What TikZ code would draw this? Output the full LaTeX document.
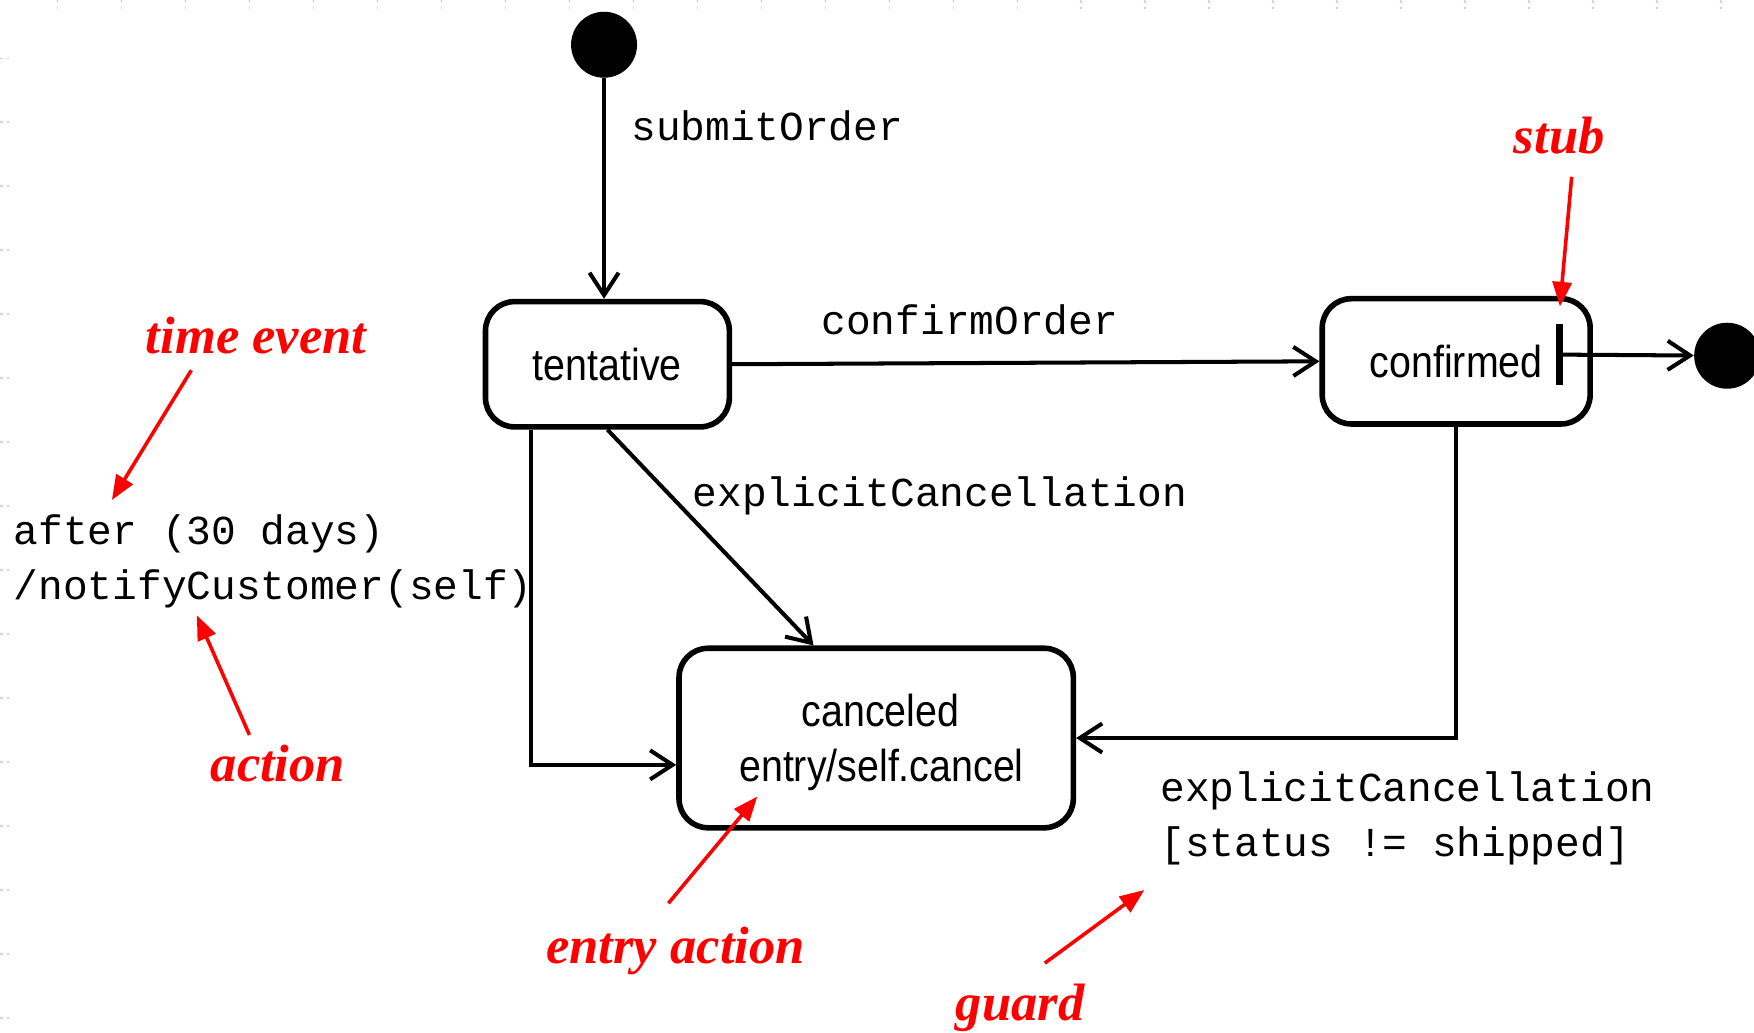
\documentclass[tikz,border=0pt]{standalone}
\usepackage{fontspec}
\usetikzlibrary{arrows.meta}
\newfontfamily\statefont[FakeStretch=0.88]{Liberation Sans}
\newfontfamily\codefont{Liberation Mono}
\newfontfamily\notefont{Liberation Serif}
\definecolor{notered}{RGB}{255,0,0}
\definecolor{gridblue}{RGB}{200,210,245}

\tikzset{
  statebox/.style={draw=black, line width=2.5pt, rounded corners=13pt, inner sep=0pt,
    font=\statefont\fontsize{20}{24.6}\selectfont},
  statetext/.style={font=\statefont\fontsize{20}{24.6}\selectfont, inner sep=0pt},
  pseudo/.style={circle, fill=black, inner sep=0pt, minimum size=29.5pt},
  trans/.style={line width=1.8pt, -{Straight Barb[length=10pt,width=13pt]}},
  code/.style={font=\codefont\fontsize{18.4}{25}\selectfont, inner sep=0pt, anchor=base west},
  note/.style={font=\notefont\bfseries\itshape\fontsize{23.5}{28}\selectfont, text=notered,
    inner sep=0pt, anchor=base west},
  pointer/.style={draw=notered, line width=1.6pt, -{Triangle[length=11pt,width=8.5pt]}},
  tick/.style={gridblue, line width=0.6pt, dash pattern=on 1.5pt off 1.5pt},
}

\begin{document}
\begin{tikzpicture}[x=0.5pt,y=-0.5pt]
\clip (0,0) rectangle (1568,923);
\fill[white] (0,0) rectangle (1568,923);

% faint slide grid marks along the left and top edges
\foreach \k in {0,...,15} \draw[tick] (0,{52+57.2*\k}) -- (8,{52+57.2*\k});
\foreach \k in {0,...,26} \draw[tick] ({51.3+57.2*\k},0) -- ({51.3+57.2*\k},8);

% states
\node[pseudo] (init) at (540,40) {};
\node[statebox, minimum width=109pt, minimum height=56pt] (tentative) at (543,325.6) {tentative};
\node[statebox, minimum width=119.75pt, minimum height=56pt] (confirmed) at (1301.75,323) {confirmed};
\node[statebox, minimum width=176.25pt, minimum height=80.25pt] (canceled) at (783.25,659.75) {};
\node[statetext, anchor=base] (canceledname) at (787,649.6) {canceled};
\node[statetext, anchor=base] (canceledentry) at (788,698.8) {entry/self.cancel};
\node[fill=black, inner sep=0pt, minimum width=3pt, minimum height=27pt] (stub) at (1394,317) {};
\node[pseudo] (final) at (1544,318) {};

% transitions
\draw[trans] (init) -- (init |- tentative.north);
\draw[trans] (tentative.east) -- (confirmed.west);
\draw[trans] (tentative.south) -- ([xshift=-28pt]canceled.north);
\draw[trans] ([xshift=21.5pt]tentative.south west) |- ([yshift=-12pt]canceled.west);
\draw[trans] (confirmed.south) |- (canceled.east);
\draw[trans] (stub.center) -- (final);

% transition labels
\node[code] (lblsubmit) at (564,126) {submitOrder};
\node[code] (lblconfirm) at (734,298.6) {confirmOrder};
\node[code] (lblcancel) at (619,453) {explicitCancellation};
\node[code] (lbltimeevt) at (12,486.6) {after (30 days)};
\node[code] (lblnotify) at (12,535.5) {/notifyCustomer(self)};
\node[code] (lblguardevt) at (1037,716.7) {explicitCancellation};
\node[code] (lblguard) at (1037,765.9) {[status != shipped]};

% annotations
\node[note] (nttime) at (130,315.8) {time event};
\node[note] (ntstub) at (1353,137) {stub};
\node[note] (ntaction) at (188,698.8) {action};
\node[note] (ntentry) at (488,861) {entry action};
\node[note] (ntguard) at (854,912.5) {guard};

\coordinate (ptime0) at (171,331);   \coordinate (ptime1) at (100,447);
\coordinate (pstub0) at (1405,158);  \coordinate (pstub1) at (1394.5,274);
\coordinate (pact0) at (223,657);    \coordinate (pact1) at (176,550);
\coordinate (pentry0) at (597.5,807.5); \coordinate (pentry1) at (677,712);
\coordinate (pguard0) at (934,861);  \coordinate (pguard1) at (1023,795.6);

\draw[pointer] (ptime0) -- (ptime1);
\draw[pointer] (pstub0) -- (pstub1);
\draw[pointer] (pact0) -- (pact1);
\draw[pointer] (pentry0) -- (pentry1);
\draw[pointer] (pguard0) -- (pguard1);
\end{tikzpicture}
\end{document}
